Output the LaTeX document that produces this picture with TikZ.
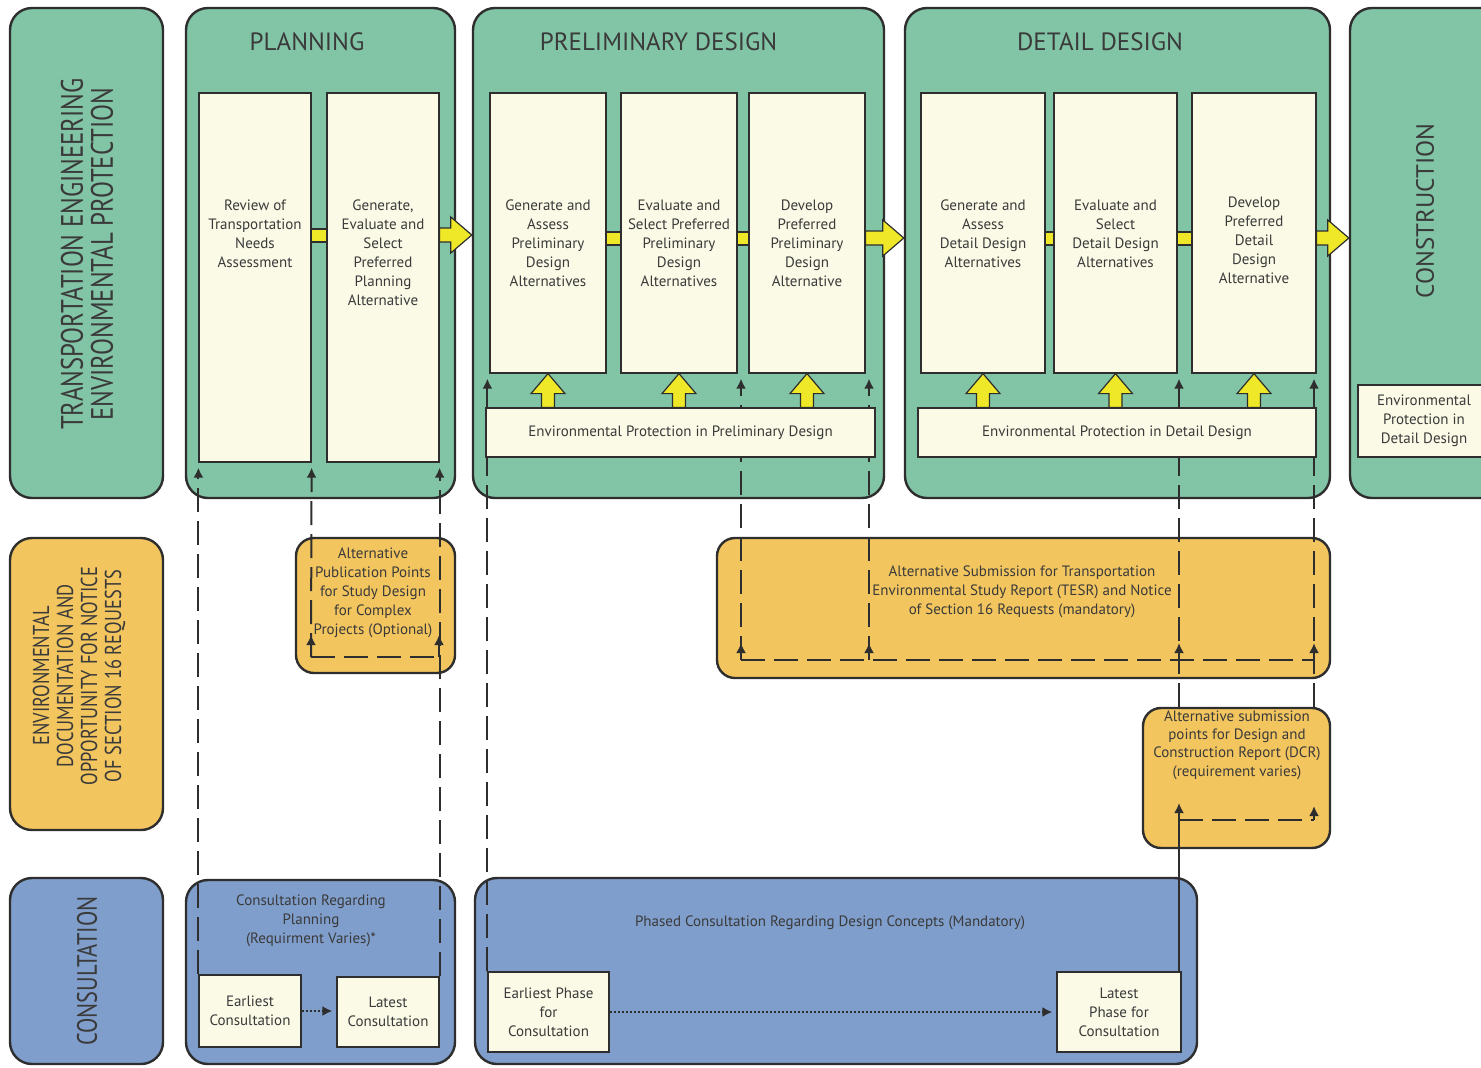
\documentclass[tikz,border=0pt]{standalone}
\usepackage{fontspec}
\setmainfont{PT Sans}
\newfontfamily\narrowsf[FakeStretch=0.8]{PT Sans}
\usetikzlibrary{arrows.meta,calc,positioning}
\definecolor{phasegreen}{HTML}{82C4A6}
\definecolor{docorange}{HTML}{F2C55F}
\definecolor{consblue}{HTML}{809ECB}
\definecolor{cream}{HTML}{FBFAE6}
\definecolor{arrowyellow}{HTML}{EEE828}
\definecolor{edge}{HTML}{2E2E2E}
\definecolor{ink}{HTML}{3A3A3A}
% yellow block arrows, #1 tail, #2 tip
\newcommand{\yarrowh}[2]{\draw[bigarrow] let \p1=#1, \p2=#2 in
    (\x1,\y1-3.5pt) -- (\x2-10.5pt,\y1-3.5pt) -- (\x2-10.5pt,\y1-9pt) -- (\x2,\y1)
    -- (\x2-10.5pt,\y1+9pt) -- (\x2-10.5pt,\y1+3.5pt) -- (\x1,\y1+3.5pt) -- cycle;}
\newcommand{\yarrowv}[2]{\draw[bigarrow] let \p1=#1, \p2=#2 in
    (\x1-3.25pt,\y1) -- (\x1-3.25pt,\y2-10pt) -- (\x1-8.5pt,\y2-10pt) -- (\x1,\y2)
    -- (\x1+8.5pt,\y2-10pt) -- (\x1+3.25pt,\y2-10pt) -- (\x1+3.25pt,\y1) -- cycle;}

\begin{document}
\begin{tikzpicture}[
        x=0.5pt, y=-0.5pt,
        font=\fontsize{7.5}{9.5}\selectfont,
        text=ink,
        >={Latex[length=5pt,width=5pt]},
        lane/.style={
            rectangle,
            rounded corners=11pt,
            draw=edge,
            line width=1.2pt,
            inner sep=0pt,
        },
        greenlane/.style={lane, fill=phasegreen},
        orangelane/.style={lane, fill=docorange, rounded corners=9pt},
        bluelane/.style={lane, fill=consblue},
        rowtitle/.style={
            rotate=90,
            align=center,
            font=\narrowsf\fontsize{15.5}{15}\selectfont,
        },
        phasetitle/.style={
            font=\fontsize{12.5}{14}\selectfont
        },
        stepbox/.style={
            rectangle,
            draw=edge,
            line width=0.6pt,
            fill=cream,
            inner sep=0pt,
            align=center,
        },
        steptext/.style={
            align=center,
            inner sep=0pt,
        },
        dashline/.style={
            draw=edge,
            line width=1pt,
            dash pattern=on 12pt off 4.5pt,
        },
        solidline/.style={
            draw=edge,
            line width=1pt,
        },
        dotarrow/.style={
            draw=edge,
            line width=1pt,
            dash pattern=on 1pt off 1pt,
            ->,
        },
        bigarrow/.style={
            draw=edge,
            line width=0.6pt,
            fill=arrowyellow,
        },
        ylink/.style={
            draw=edge,
            line width=0.6pt,
            fill=arrowyellow,
        },
    ]

    \useasboundingbox (0,0) rectangle (1481,1067);
    \fill[white] (0,0) rectangle (1481,1067);

    % Row titles on the left
    \node[greenlane, minimum width=76.5pt, minimum height=245pt] (teep) at (86.5,253) {};
    \node[rowtitle] at (87,254) {TRANSPORTATION ENGINEERING\\ENVIRONMENTAL PROTECTION};
    \node[orangelane, rounded corners=11pt, minimum width=76.5pt, minimum height=146pt] (envdoc) at (86.5,684) {};
    \node[rowtitle, font=\narrowsf\fontsize{11.5}{12}\selectfont] at (79,676) {ENVIRONMENTAL\\DOCUMENTATION AND\\OPPORTUNITY FOR NOTICE\\OF SECTION 16 REQUESTS};
    \node[bluelane, minimum width=76.5pt, minimum height=93pt] (consl) at (86.5,971) {};
    \node[rowtitle, font=\narrowsf\fontsize{14}{14}\selectfont] at (87,971) {CONSULTATION};

    % Phase lanes
    \node[greenlane, minimum width=134.5pt, minimum height=245pt] (plan) at (320.5,253) {};
    \node[phasetitle] at (307,42) {PLANNING};
    \node[greenlane, minimum width=205.5pt, minimum height=245pt] (prelim) at (678.5,253) {};
    \node[phasetitle] at (658.5,42) {PRELIMINARY DESIGN};
    \node[greenlane, minimum width=212.5pt, minimum height=245pt] (detail) at (1117.5,253) {};
    \node[phasetitle] at (1100,42) {DETAIL DESIGN};
    \node[greenlane, minimum width=80pt, minimum height=245pt] (constr) at (1430,253) {};
    \node[rowtitle, font=\fontsize{12.5}{14}\selectfont] at (1425,211) {CONSTRUCTION};

    % Documentation lanes
    \node[orangelane, minimum width=79.5pt, minimum height=67.5pt] (pubpts) at (375.5,605.5) {};
    \node[steptext] at (373,593) {Alternative\\Publication Points\\for Study Design\\for Complex\\Projects (Optional)};
    \node[orangelane, minimum width=306.5pt, minimum height=70pt] (tesr) at (1023.5,608) {};
    \node[steptext] at (1022,592) {Alternative Submission for Transportation\\Environmental Study Report (TESR) and Notice\\of Section 16 Requests (mandatory)};
    \node[orangelane, minimum width=93.5pt, minimum height=70pt] (dcr) at (1236.5,778) {};
    \node[steptext, font=\fontsize{7.5}{9.2}\selectfont] at (1237,745) {Alternative submission\\points for Design and\\Construction Report (DCR)\\(requirement varies)};

    % Consultation lanes
    \node[bluelane, minimum width=134.5pt, minimum height=92pt] (plcons) at (320.5,972) {};
    \node[steptext] at (311,921) {Consultation Regarding\\Planning\\(Requirment Varies)*};
    \node[bluelane, minimum width=361pt, minimum height=93pt] (phcons) at (836,971) {};
    \node[steptext] at (830,923) {Phased Consultation Regarding Design Concepts (Mandatory)};

    % Taps for the feedback lines
    \coordinate (pa) at (311,657);
    \coordinate (pb) at (pa -| 439,0);
    \coordinate (ta) at (741,660);
    \coordinate (tb) at (869,660);
    \coordinate (tc) at (1179,660);
    \coordinate (td) at (1314,660);
    \coordinate (da) at (1179,820);
    \coordinate (db) at (1314,820);

    % Consultation boxes
    \node[stepbox, minimum width=51pt, minimum height=36pt] (ec) at (250,1011) {Earliest\\Consultation};
    \node[stepbox, minimum width=51pt, minimum height=35pt] (lc) at (388,1012) {Latest\\Consultation};
    \node[stepbox, minimum width=60.5pt, minimum height=40pt] (ep) at (548.5,1012) {Earliest Phase\\for\\Consultation};
    \node[stepbox, minimum width=62pt, minimum height=40pt] (lp) at (1119,1012) {Latest\\Phase for\\Consultation};

    % Steps inside the phases
    \node[stepbox, minimum width=56pt, minimum height=184.5pt] (pl1) at (255,277.5) {};
    \node[stepbox, minimum width=56pt, minimum height=184.5pt] (pl2) at (383,277.5) {};
    \node[stepbox, minimum width=58pt, minimum height=140pt] (pd1) at (548,233) {};
    \node[stepbox, minimum width=58pt, minimum height=140pt] (pd2) at (679,233) {};
    \node[stepbox, minimum width=58pt, minimum height=140pt] (pd3) at (807,233) {};
    \node[stepbox, minimum width=62pt, minimum height=140pt] (dd1) at (983,233) {};
    \node[stepbox, minimum width=61.5pt, minimum height=140pt] (dd2) at (1115.5,233) {};
    \node[stepbox, minimum width=62pt, minimum height=140pt] (dd3) at (1254,233) {};

    \node[steptext, below=53.5pt of pl1.north] {Review of\\Transportation\\Needs\\Assessment};
    \node[steptext, below=53.5pt of pl2.north] {Generate,\\Evaluate and\\Select\\Preferred\\Planning\\Alternative};
    \node[steptext, below=53.5pt of pd1.north] {Generate and\\Assess\\Preliminary\\Design\\Alternatives};
    \node[steptext, below=53.5pt of pd2.north] {Evaluate and\\Select Preferred\\Preliminary\\Design\\Alternatives};
    \node[steptext, below=53.5pt of pd3.north] {Develop\\Preferred\\Preliminary\\Design\\Alternative};
    \node[steptext, below=53.5pt of dd1.north] {Generate and\\Assess\\Detail Design\\Alternatives};
    \node[steptext, below=53.5pt of dd2.north] {Evaluate and\\Select\\Detail Design\\Alternatives};
    \node[steptext, below=52pt of dd3.north] {Develop\\Preferred\\Detail\\Design\\Alternative};

    % Feedback lines
    \draw[dashline, ->, shorten >=2.5pt] (ec.north west) -- (pl1.south west);
    \draw[dashline, ->, shorten >=2.5pt] (lc.north east) -- (pl2.south east);
    \draw[dashline, ->, shorten >=2.5pt] (pa) -- (pl1.south east);
    \draw[dashline] (pa) -- (pb);
    \draw[solidline, ->] (pa) -- ++(0,-22);
    \draw[solidline, ->] (pb) -- ++(0,-22);

    \draw[dashline, ->, shorten >=2.5pt] (ep.north west) -- (ep.north west |- pd1.south);
    \draw[dashline, ->, shorten >=2.5pt] (ta) -- (ta |- pd2.south);
    \draw[dashline, ->, shorten >=2.5pt] (tb) -- (tb |- pd3.south);
    \draw[dashline] (ta) -- (td);
    \foreach \t in {ta,tb,tc,td}
        \draw[solidline, ->] (\t) -- ++(0,-17);
    \draw[dashline, ->, shorten >=2.5pt] (tc |- dcr.north) -- (tc |- dd2.south);
    \draw[dashline, ->, shorten >=2.5pt] (td |- dcr.north) -- (td |- dd3.south);
    \draw[solidline, ->] (tc |- lp.north) -- ([yshift=8.5pt]da);
    \draw[dashline] (da) -- (db);
    \draw[solidline, ->] (db) -- ++(0,-14);

    % Environmental protection boxes
    \node[stepbox, minimum width=194.5pt, minimum height=24.5pt] (pdenv) at (680.5,432.5) {Environmental Protection in Preliminary Design};
    \node[stepbox, minimum width=199pt, minimum height=24.5pt] (ddenv) at (1117,432.5) {Environmental Protection in Detail Design};
    \node[stepbox, minimum width=66pt, minimum height=36pt] (cenv) at (1424,421) {Environmental\\Protection in\\Detail Design};

    % Consultation sequence
    \draw[dotarrow, shorten >=2pt] (ec.east) -- (ec.east -| lc.west);
    \draw[dotarrow, shorten >=2pt] (ep.east) -- (ep.east -| lp.west);

    % Yellow links between the steps
    \coordinate (prow) at (0,235);
    \coordinate (drow) at (0,238);
    \draw[ylink] (pl1.east |- 0,229) rectangle (pl2.west |- 0,242);
    \draw[ylink] (pd1.east |- 0,232) rectangle (pd2.west |- 0,245);
    \draw[ylink] (pd2.east |- 0,232) rectangle (pd3.west |- 0,245);
    \draw[ylink] (dd1.east |- 0,232) rectangle (dd2.west |- 0,245);
    \draw[ylink] (dd2.east |- 0,232) rectangle (dd3.west |- 0,245);
    \yarrowh{(pl2.east |- prow)}{(prelim.west |- prow)}
    \yarrowh{(pd3.east |- drow)}{(detail.west |- drow)}
    \yarrowh{(dd3.east |- drow)}{(constr.west |- drow)}
    \foreach \b in {pd1,pd2,pd3}
        {\yarrowv{(pdenv.north -| \b)}{(\b.south)}}
    \foreach \b in {dd1,dd2,dd3}
        {\yarrowv{(ddenv.north -| \b)}{(\b.south)}}

\end{tikzpicture}
\end{document}
